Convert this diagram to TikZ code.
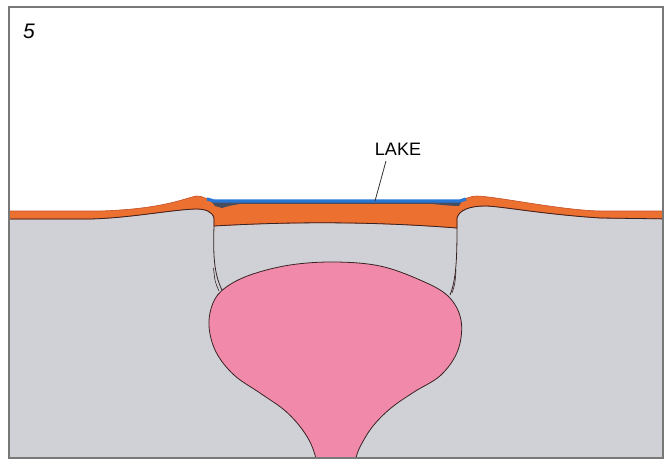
\documentclass[tikz,border=0pt]{standalone}
\usepackage{fontspec}
\setmainfont{Liberation Sans}
\definecolor{rock}{RGB}{208,209,214}
\definecolor{crust}{RGB}{236,112,48}
\definecolor{crustedge}{RGB}{200,80,40}
\definecolor{magma}{RGB}{241,138,170}
\definecolor{water}{RGB}{40,118,214}
\definecolor{silt}{RGB}{70,78,96}
\definecolor{ink}{RGB}{55,35,35}
\definecolor{framegray}{RGB}{120,120,120}
\tikzset{
  contact/.style={draw=ink, line width=0.8pt},
  framebox/.style={draw=framegray, line width=1.8pt},
  label/.style={font=\fontsize{18}{18}\selectfont, inner sep=0pt},
  leader/.style={draw=black!80, line width=0.8pt}
}
\begin{document}
\begin{tikzpicture}[x=1pt,y=-1pt]
\useasboundingbox (0,0) rectangle (672,461);
\begin{scope}
  \clip (9,7) rectangle (663,458);
  % country rock below the surface
  \fill[rock] (0,211) -- (100,211)
    .. controls (160,209) and (180,200) .. (196,196)
    .. controls (204,196) and (209,200) .. (214,203) -- (457,203)
    .. controls (465,199) and (470,196) .. (477,196)
    .. controls (500,197) and (560,210) .. (600,211) -- (672,211)
    -- (672,470) -- (0,470) -- cycle;
  % surface layer, sagging into the crater
  \fill[crust, draw=crustedge, line width=0.6pt] (0,211) -- (100,211)
    .. controls (160,209) and (180,200) .. (196,196)
    .. controls (204,196) and (209,200) .. (214,203) -- (457,203)
    .. controls (465,199) and (470,196) .. (477,196)
    .. controls (500,197) and (560,210) .. (600,211) -- (672,211)
    -- (672,219) -- (600,218)
    .. controls (540,214) and (500,206) .. (485,206)
    .. controls (470,206) and (459,210) .. (457,218) -- (457,228)
    .. controls (380,222) and (300,221) .. (214,226) -- (214,218)
    .. controls (212,211) and (205,209) .. (195,209)
    .. controls (170,210) and (130,218) .. (90,219) -- (0,219) -- cycle;
  % contacts between surface layer and rock
  \draw[contact] (0,219) -- (90,219)
    .. controls (130,218) and (170,210) .. (195,209)
    .. controls (205,209) and (212,211) .. (214,218);
  \draw[contact] (214,226) .. controls (300,221) and (380,222) .. (457,228);
  \draw[contact] (672,219) -- (600,218)
    .. controls (540,214) and (500,206) .. (485,206)
    .. controls (470,206) and (459,210) .. (457,218);
  % lake-bottom sediment
  \fill[silt] (211,201) -- (265,201) .. controls (245,203) and (230,205) .. (222,208)
    -- (215,206) -- cycle;
  \fill[silt] (410,201) -- (462,201) -- (459,206)
    .. controls (450,206) and (430,204) .. cycle;
  \fill[silt] (214,201) rectangle (460,204);
  % lake water
  \draw[water, line width=3.2pt] (207,199) .. controls (210,200) .. (214,201) -- (460,201)
    .. controls (463,200) .. (466,199);
  % magma chamber
  \filldraw[fill=magma, contact] plot[smooth, tension=0.6] coordinates {
    (318,470) (315,455) (309,440) (298,424) (283,409) (260,393) (234,375)
    (216,352) (209,326) (213,303) (225,288) (250,275) (290,265) (335,262)
    (380,266) (420,280) (448,296) (461,320) (458,350) (441,375) (414,392)
    (391,408) (373,426) (361,445) (356,458) (355,470)};
  % crater walls
  \draw[contact] (214,218) -- (214,226)
    .. controls (213,255) and (214,274) .. (222,290);
  \draw[contact, line width=0.6pt] (213.5,268) .. controls (215,282) .. (219,291);
  \draw[contact] (457,218) -- (457,228)
    .. controls (457,260) and (456,280) .. (450,295);
  \draw[contact, line width=0.6pt] (456,270) .. controls (455,284) .. (452,293);
\end{scope}
% frame
\draw[framebox] (9,7) rectangle (663,458);
% labels
\node[font=\fontsize{21}{21}\selectfont\itshape, anchor=base west, inner sep=0pt]
  (num) at (23,38) {5};
\node[label, anchor=base] (lake) at (398,155.5) {LAKE};
\coordinate (lakept) at (375,201);
\draw[leader] (386,161) -- (lakept);
\end{tikzpicture}
\end{document}
